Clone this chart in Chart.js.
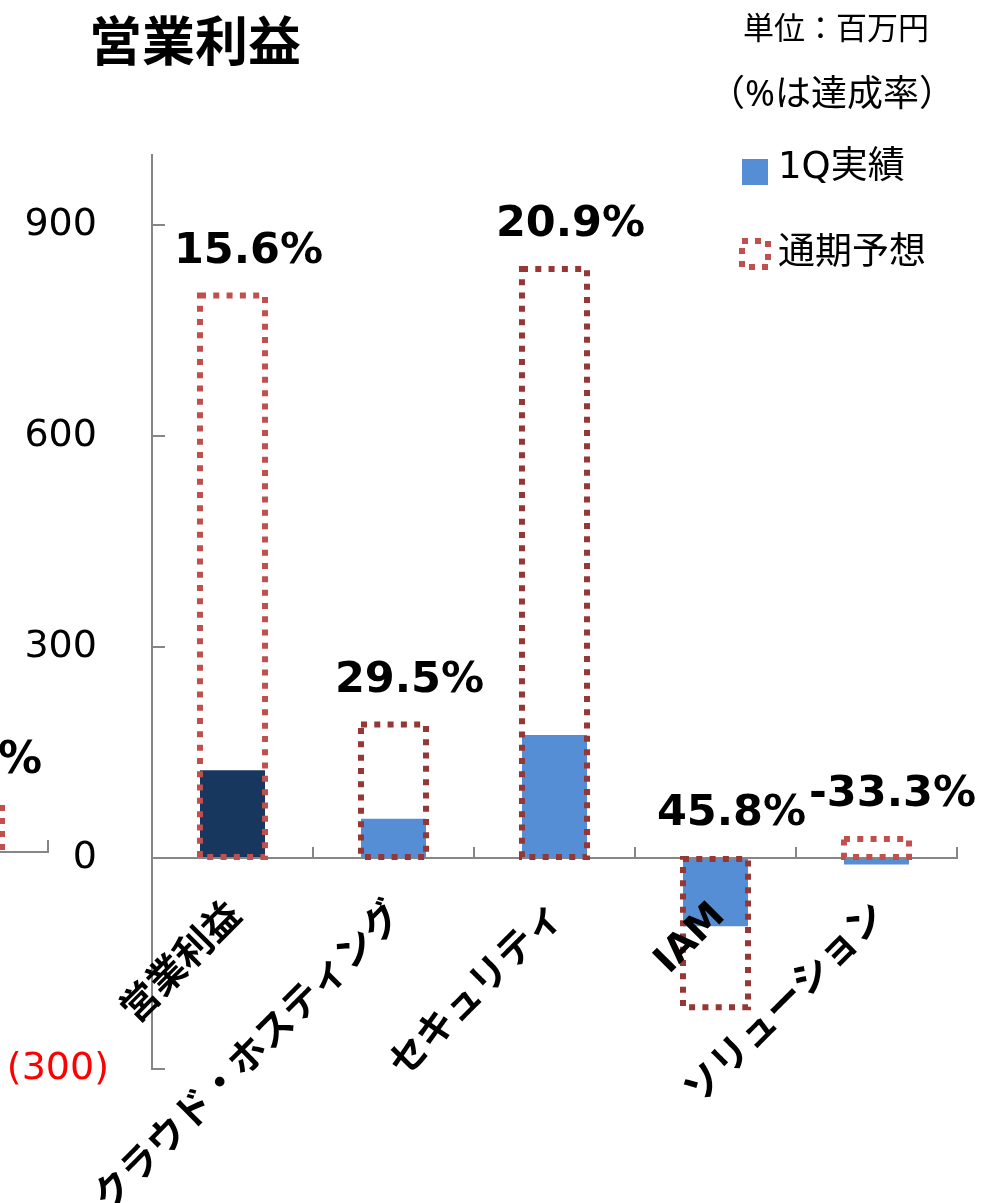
<!DOCTYPE html>
<html lang="ja">
<head>
<meta charset="utf-8">
<script src="https://cdn.jsdelivr.net/npm/chart.js@4/dist/chart.umd.min.js"></script>
<style>
  html, body { margin: 0; padding: 0; background: #fff; }
  #wrap { position: relative; width: 990px; height: 1203px; overflow: hidden; }
  #chart { position: absolute; left: 0; top: 0; }
  .txt { position: absolute; white-space: nowrap; color: #000; font-family: "DejaVu Sans", "Noto Sans CJK JP", sans-serif; }
  #title { left: 89px; top: 12px; font: bold 53px/53px "Noto Sans CJK JP", sans-serif; }
  #unit { left: 743px; top: 10px; font-size: 31px; line-height: 31px; font-family: "Noto Sans CJK JP", sans-serif; }
  #note { left: 709px; top: 72px; font-size: 36px; line-height: 36px; font-family: "Noto Sans CJK JP", sans-serif; }
  #note .pct { font-family: "Noto Sans", sans-serif; font-size: 36px; }
  .leg { left: 778px; font-size: 37px; line-height: 37px; }
  #frag { position: absolute; left: 0; top: 730px; }
  #fragPct { left: -2px; top: 736px; font: bold 44px/44px "DejaVu Sans", sans-serif; }
</style>
</head>
<body>
<div id="wrap">
  <canvas id="chart" width="990" height="1203"></canvas>
  <div class="txt" id="title">営業利益</div>
  <div class="txt" id="unit">単位：百万円</div>
  <div class="txt" id="note">（<span class="pct">%</span>は達成率）</div>
  <svg style="position:absolute;left:740px;top:158px" width="30" height="28"><rect x="2" y="1" width="26" height="26" fill="#558ED5"/></svg>
  <div class="txt leg" style="top:147px">1Q実績</div>
  <svg style="position:absolute;left:736px;top:235px" width="38" height="38"><rect x="6" y="6" width="26" height="26" fill="none" stroke="#C0504D" stroke-width="6" stroke-dasharray="6 7"/></svg>
  <div class="txt leg" style="top:233px">通期予想</div>
  <div class="txt" id="fragPct">%</div>
  <svg id="frag" width="60" height="130">
    <line x1="2" y1="75" x2="2" y2="122" stroke="#C0504D" stroke-width="6" stroke-dasharray="6 7"/>
    <line x1="0" y1="122" x2="48" y2="122" stroke="#868686" stroke-width="2"/>
    <line x1="48" y1="110" x2="48" y2="123" stroke="#868686" stroke-width="2"/>
  </svg>
</div>
<script>
// ---- data ----
const categories = ['営業利益', 'クラウド・ホスティング', 'セキュリティ', 'IAM', 'ソリューション'];
const actual1Q = [125, 56, 175, -97, -9];
const forecastFY = [800, 190, 838, -212, 27];
const achievementRates = [15.6, 29.5, 20.9, 45.8, -33.3];
const yTickValues = [-300, 0, 300, 600, 900];
const yMin = -300;
const yMax = 1000;

// ---- styles ----
const actualColors = ['#17375E', '#558ED5', '#558ED5', '#558ED5', '#558ED5'];
const forecastColors = ['#C0504D', '#953735', '#953735', '#953735', '#C0504D'];
const axisColor = '#868686';
const mixFont = '"DejaVu Sans", "Noto Sans CJK JP", sans-serif';

const dottedBars = {
  id: 'dottedBars',
  afterDatasetsDraw(chart) {
    const ctx = chart.ctx;
    const meta = chart.getDatasetMeta(1);
    ctx.save();
    ctx.lineWidth = 6;
    ctx.setLineDash([6, 7.3]);
    meta.data.forEach((el, i) => {
      const p = el.getProps(['x', 'y', 'base', 'width'], true);
      const left = p.x - p.width / 2;
      const top = Math.min(p.y, p.base);
      const h = Math.abs(p.base - p.y);
      ctx.strokeStyle = forecastColors[i];
      ctx.strokeRect(left, top, p.width, h);
    });
    ctx.restore();

    // achievement-rate labels
    const y = chart.scales.y;
    ctx.save();
    ctx.font = 'bold 43px "DejaVu Sans", sans-serif';
    ctx.fillStyle = '#000';
    ctx.textAlign = 'center';
    ctx.textBaseline = 'middle';
    meta.data.forEach((el, i) => {
      const topVal = Math.max(forecastFY[i], 0);
      ctx.fillText(achievementRates[i].toFixed(1) + '%', el.x + 16, y.getPixelForValue(topVal) - 44);
    });
    ctx.restore();
  }
};

new Chart(document.getElementById('chart'), {
  type: 'bar',
  data: {
    labels: categories,
    datasets: [
      { label: '1Q実績', data: actual1Q, backgroundColor: actualColors, borderWidth: 0 },
      { label: '通期予想', data: forecastFY, backgroundColor: 'rgba(0,0,0,0)', borderWidth: 0 }
    ]
  },
  options: {
    responsive: false,
    animation: false,
    events: [],
    categoryPercentage: 1,
    barPercentage: 0.404,
    layout: { padding: { top: 155, bottom: 134, left: 0, right: 33 } },
    plugins: { legend: { display: false }, tooltip: { enabled: false } },
    scales: {
      x: {
        stacked: true,
        position: { y: 0 },
        offset: true,
        grid: { offset: true, drawOnChartArea: false, tickLength: -12, color: axisColor, lineWidth: 2 },
        border: { color: axisColor, width: 2 },
        ticks: {
          z: 1,
          autoSkip: false, minRotation: 45, maxRotation: 45,
          padding: 48, labelOffset: 4,
          color: '#000',
          font: { family: mixFont, size: 38, weight: 'bold' }
        }
      },
      y: {
        stacked: false,
        min: yMin, max: yMax,
        afterBuildTicks: s => { s.ticks = yTickValues.map(v => ({ value: v })); },
        afterFit: s => { s.width = 152; },
        grid: { drawOnChartArea: false, tickLength: -13, color: axisColor, lineWidth: 2 },
        border: { color: axisColor, width: 2 },
        ticks: {
          padding: 56,
          color: c => (c.tick && c.tick.value < 0 ? '#FF0000' : '#000'),
          font: { family: mixFont, size: 38 },
          callback: v => (v < 0 ? '(' + (-v) + ')' : String(v) + '\u2008')
        }
      }
    }
  },
  plugins: [dottedBars]
});
</script>
</body>
</html>
